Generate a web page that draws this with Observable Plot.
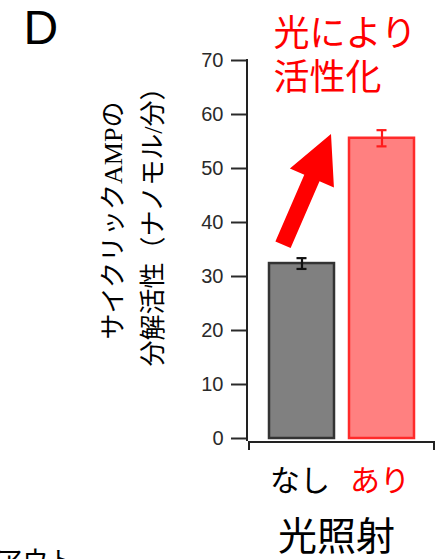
<!DOCTYPE html>
<html>
<head>
<meta charset="utf-8">
<script src="https://cdn.jsdelivr.net/npm/d3@7"></script>
<script src="https://cdn.jsdelivr.net/npm/@observablehq/plot@0.6"></script>
<style>
  html, body { margin: 0; padding: 0; background: #ffffff; }
  #chart { width: 448px; height: 559px; overflow: hidden; }
</style>
</head>
<body>
<div id="chart"></div>
<script>
// ---- data ----
const categories = ["なし", "あり"];
const values = [32.4, 55.6];
const errors = [1.0, 1.5];
const yTicks = [0, 10, 20, 30, 40, 50, 60, 70];
const barFills = ["#808080", "#ff8080"];
const barStrokes = ["#333333", "#ff2a2a"];
const errColors = ["#111111", "#ff1a1a"];
const labelColors = ["#000000", "#ff0000"];
const arrowValues = [35.8, 56.3];   // arrow tail / tip level on the y scale
const panelLetter = "D";
const yTitle = "サイクリックAMPの\n分解活性（ナノモル/分）";
const annotation = "光により\n活性化";
const xTitle = "光照射";
const cutText = "アウト";

const data = categories.map((c, i) => ({
  cat: c, value: values[i], err: errors[i],
  fill: barFills[i], stroke: barStrokes[i], errColor: errColors[i], label: labelColors[i]
}));

const PAD_INNER = 0.1875;

function axisLines(index, scales) {
  const {x, y} = scales;
  const step = x(categories[1]) - x(categories[0]);
  const bw = step * (1 - PAD_INNER);
  const g = d3.create("svg:g");
  const x0 = x(categories[0]) - 20, x1 = x(categories[1]) + bw + 20, yb = y(0) + 4;
  g.append("path")
    .attr("d", `M${x0},${yb + 8}V${yb}H${x1}V${yb + 8}`)
    .attr("fill", "none").attr("stroke", "#222").attr("stroke-width", 2);
  const xa = x(categories[0]) - 22;
  g.append("line")
    .attr("x1", xa).attr("x2", xa).attr("y1", y(70) - 1).attr("y2", y(0) + 3)
    .attr("stroke", "#222").attr("stroke-width", 2);
  return g.node();
}

function bigArrow(index, scales) {
  const {x, y} = scales;
  const tx = x(categories[0]) + 14, ty = y(arrowValues[0]);
  const px = x(categories[1]) - 18, py = y(arrowValues[1]);
  const L = Math.hypot(px - tx, py - ty);
  const ux = (px - tx) / L, uy = (py - ty) / L;
  const nx = -uy, ny = ux;
  const headLen = 48, headHalf = 24, shaftHalf = 8.3;
  const bx = px - ux * headLen, by = py - uy * headLen;
  const pts = [
    [tx + nx * shaftHalf, ty + ny * shaftHalf],
    [bx + nx * shaftHalf, by + ny * shaftHalf],
    [bx + nx * headHalf, by + ny * headHalf],
    [px, py],
    [bx - nx * headHalf, by - ny * headHalf],
    [bx - nx * shaftHalf, by - ny * shaftHalf],
    [tx - nx * shaftHalf, ty - ny * shaftHalf]
  ];
  const g = d3.create("svg:g");
  g.append("polygon").attr("points", pts.map(p => p.join(",")).join(" ")).attr("fill", "#ff0000");
  return g.node();
}

const jp = "'Noto Sans CJK JP', 'Noto Sans', sans-serif";

const chart = Plot.plot({
  width: 448,
  height: 559,
  marginTop: 60,
  marginBottom: 121,
  marginLeft: 247,
  marginRight: 12,
  style: {background: "#ffffff", fontFamily: jp, overflow: "visible"},
  x: {domain: categories, paddingInner: PAD_INNER, paddingOuter: 0.275, axis: null},
  y: {domain: [0, 70], axis: null},
  color: {type: "identity"},
  marks: [
    Plot.axisY({ticks: yTicks, tickSize: 16, tickPadding: 8, fontSize: 20,
      fontFamily: "'Liberation Sans', Arial, sans-serif", color: "#2a2a2a",
      strokeWidth: 2, label: null}),
    axisLines,
    Plot.barY(data, {x: "cat", y: "value", fill: "fill", stroke: "stroke", strokeWidth: 2.5}),
    Plot.ruleX(data, {x: "cat", y1: d => d.value - d.err, y2: d => d.value + d.err, stroke: "errColor", strokeWidth: 2.2}),
    Plot.tickY(data, {x: "cat", y: d => d.value + d.err, stroke: "errColor", strokeWidth: 2.2, insetLeft: 27.5, insetRight: 27.5}),
    Plot.tickY(data, {x: "cat", y: d => d.value - d.err, stroke: "errColor", strokeWidth: 2.2, insetLeft: 27.5, insetRight: 27.5}),
    bigArrow,
    Plot.text(data, {x: "cat", text: "cat", frameAnchor: "bottom", dx: -2, dy: 43, fontSize: 30,
      fill: "label", fontFamily: jp, lineAnchor: "middle", textAnchor: "middle"}),
    Plot.text([xTitle], {frameAnchor: "bottom", dx: -5.5, dy: 99, fontSize: 39, fill: "#000",
      fontFamily: jp, lineAnchor: "middle", textAnchor: "middle"}),
    Plot.text([yTitle], {frameAnchor: "left", rotate: -90, dx: -118, dy: -29, fontSize: 26,
      lineHeight: 40 / 26, textAnchor: "middle", lineAnchor: "middle", fill: "#000",
      fontFamily: "'Liberation Serif', 'Noto Sans CJK JP', serif"}),
    Plot.text([annotation], {frameAnchor: "top-left", dx: 26, dy: -7, fontSize: 36,
      lineHeight: 44.5 / 36, textAnchor: "start", lineAnchor: "middle", fill: "#ff0000", fontFamily: jp}),
    Plot.text([panelLetter], {frameAnchor: "top-left", dx: -224, dy: -32, fontSize: 48,
      textAnchor: "start", lineAnchor: "middle", fill: "#000",
      fontFamily: "'Liberation Sans', Arial, sans-serif"}),
    Plot.text([cutText], {frameAnchor: "bottom-left", dx: -251, dy: 113, fontSize: 26,
      textAnchor: "start", lineAnchor: "top", fill: "#000", fontFamily: jp})
  ]
});

document.getElementById("chart").appendChild(chart);
</script>
</body>
</html>
